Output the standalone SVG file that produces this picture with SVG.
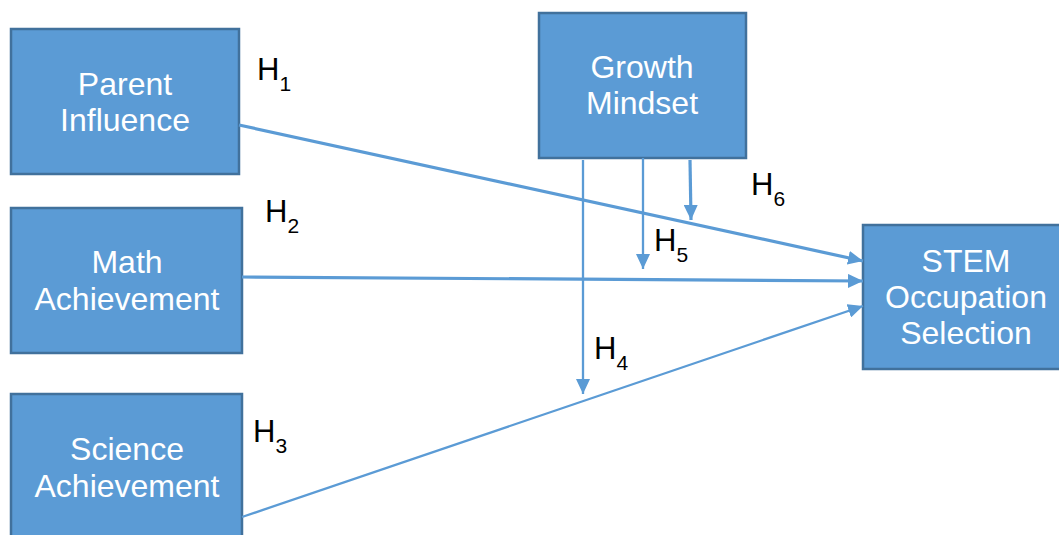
<svg xmlns="http://www.w3.org/2000/svg" width="1059" height="535" viewBox="0 0 1059 535">
<style>
.box{fill:#5B9BD5;stroke:#41719C;stroke-width:2.5}
.bt{fill:#fff;font-family:"Liberation Sans",Arial,sans-serif;font-size:32px;text-anchor:middle}
.hl{fill:#000;font-family:"Liberation Sans",Arial,sans-serif;font-size:31px}
.sub{font-size:21px}
.c{stroke:#5B9BD5;fill:none}
</style>
<defs>
<marker id="ah" markerUnits="userSpaceOnUse" markerWidth="16" markerHeight="14" refX="15" refY="7" orient="auto">
<path d="M0,0 L15,7 L0,14 Z" fill="#5B9BD5"/>
</marker>
</defs>
<g id="parent"><rect class="box" x="11" y="29" width="228" height="145"/><text class="bt" x="125" y="95">Parent</text><text class="bt" x="125" y="131">Influence</text></g>
<g id="math"><rect class="box" x="11" y="208" width="231" height="145"/><text class="bt" x="127" y="273">Math</text><text class="bt" x="127" y="310">Achievement</text></g>
<g id="science"><rect class="box" x="11" y="394" width="231" height="150"/><text class="bt" x="127" y="460">Science</text><text class="bt" x="127" y="497">Achievement</text></g>
<g id="growth"><rect class="box" x="539" y="13" width="207" height="145"/><text class="bt" x="642" y="78">Growth</text><text class="bt" x="642" y="114">Mindset</text></g>
<g id="stem"><rect class="box" x="863" y="225" width="200" height="144"/><text class="bt" x="966" y="272">STEM</text><text class="bt" x="966" y="308">Occupation</text><text class="bt" x="966" y="344">Selection</text></g>
<g id="connectors">
<line class="c" x1="239" y1="125" x2="863" y2="261" stroke-width="3.2" marker-end="url(#ah)"/>
<line class="c" x1="242" y1="277" x2="863" y2="281" stroke-width="3.2" marker-end="url(#ah)"/>
<line class="c" x1="242" y1="517" x2="863" y2="306" stroke-width="2.3" marker-end="url(#ah)"/>
<line class="c" x1="583" y1="160" x2="583" y2="394" stroke-width="2.3" marker-end="url(#ah)"/>
<line class="c" x1="643" y1="158" x2="643" y2="269" stroke-width="2.3" marker-end="url(#ah)"/>
<line class="c" x1="690" y1="160" x2="691" y2="220" stroke-width="3.2" marker-end="url(#ah)"/>
</g>
<g id="labels">
<text class="hl" x="257" y="80">H<tspan class="sub" dy="11">1</tspan></text>
<text class="hl" x="265" y="222">H<tspan class="sub" dy="11">2</tspan></text>
<text class="hl" x="253" y="442">H<tspan class="sub" dy="11">3</tspan></text>
<text class="hl" x="594" y="359">H<tspan class="sub" dy="11">4</tspan></text>
<text class="hl" x="654" y="251">H<tspan class="sub" dy="11">5</tspan></text>
<text class="hl" x="751" y="195">H<tspan class="sub" dy="11">6</tspan></text>
</g>
</svg>
